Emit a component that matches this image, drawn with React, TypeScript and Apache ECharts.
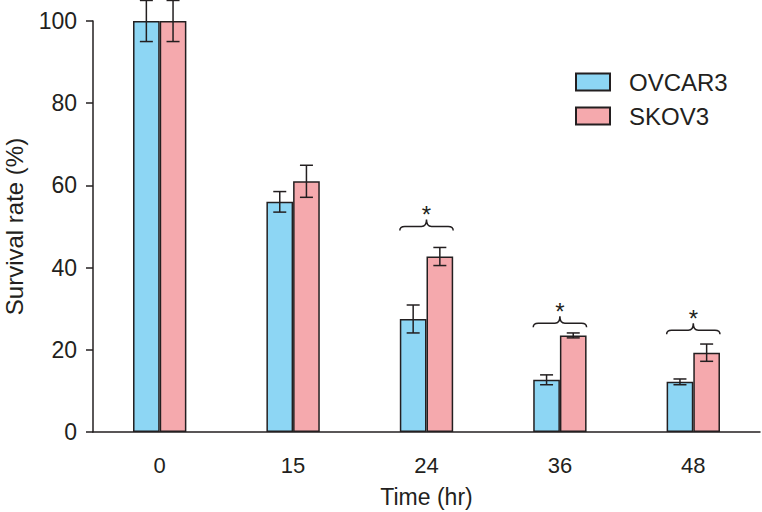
import React, { useEffect, useRef } from "react";
import * as echarts from "echarts";

const categories = ["0", "15", "24", "36", "48"];
const ovcar3 = [100, 56, 27.5, 12.7, 12.2];
const ovcar3Err = [5, 2.5, 3.4, 1.2, 0.7];
const skov3 = [100, 61, 42.7, 23.5, 19.3];
const skov3Err = [5, 3.9, 2.2, 0.6, 2.1];
// value level of the significance brace base (null = no brace)
const sigLevel: (number | null)[] = [null, null, 49, 25.5, 23.8];

const INK = "#231f20";
const FONT = "'Liberation Sans', Arial, sans-serif";

export default function App() {
  const ref = useRef<HTMLDivElement>(null);
  useEffect(() => {
    if (!ref.current) return;
    const chart = echarts.init(ref.current, null, { renderer: "svg" });

    const errSeries = (name: string, vals: number[], errs: number[], offset: number) => ({
      type: "custom",
      name,
      clip: false,
      z: 5,
      data: vals.map((v, i) => [i, v, errs[i]]),
      renderItem: (_p: any, api: any) => {
        const i = api.value(0);
        const v = api.value(1);
        const e = api.value(2);
        const band = api.size([1, 0])[0];
        const cx = api.coord([i, 0])[0] + offset * band;
        const yT = api.coord([i, v + e])[1];
        const yB = api.coord([i, v - e])[1];
        const cap = 6.5;
        const st = { stroke: INK, lineWidth: 1.5 };
        return {
          type: "group",
          children: [
            { type: "line", shape: { x1: cx, y1: yT, x2: cx, y2: yB }, style: st },
            { type: "line", shape: { x1: cx - cap, y1: yT, x2: cx + cap, y2: yT }, style: st },
            { type: "line", shape: { x1: cx - cap, y1: yB, x2: cx + cap, y2: yB }, style: st },
          ],
        };
      },
    });

    const braceData = sigLevel
      .map((l, i) => (l === null ? null : [i, l]))
      .filter((d) => d !== null);

    const option: any = {
      animation: false,
      textStyle: { fontFamily: FONT, color: INK },
      grid: { left: 93, right: 2, top: 21, bottom: 80, containLabel: false, outerBoundsMode: "none" },
      legend: {
        orient: "vertical",
        left: 575,
        top: 70,
        padding: 0,
        itemWidth: 34,
        itemHeight: 17,
        itemGap: 10,
        icon: "rect",
        data: ["OVCAR3", "SKOV3"],
        textStyle: {
          fontSize: 24,
          lineHeight: 17,
          color: INK,
          fontFamily: FONT,
          padding: [0, 0, 0, 14],
        },
      },
      xAxis: {
        type: "category",
        data: categories,
        name: "Time (hr)",
        nameLocation: "middle",
        nameGap: 53,
        nameTextStyle: { fontSize: 23, color: INK, fontFamily: FONT },
        axisLine: { lineStyle: { color: INK, width: 1.5 } },
        axisTick: { length: 8, lineStyle: { color: INK, width: 1.5 } },
        axisLabel: { fontSize: 22, color: INK, margin: 22, fontFamily: FONT },
      },
      yAxis: {
        type: "value",
        min: 0,
        max: 100,
        interval: 20,
        name: "Survival rate (%)",
        nameLocation: "middle",
        nameGap: 67,
        nameTextStyle: { fontSize: 24, color: INK, fontFamily: FONT },
        splitLine: { show: false },
        axisLine: { show: true, lineStyle: { color: INK, width: 1.5 } },
        axisTick: { show: true, length: 7, lineStyle: { color: INK, width: 1.5 } },
        axisLabel: { fontSize: 23, color: INK, margin: 16, fontFamily: FONT },
      },
      series: [
        {
          type: "bar",
          name: "OVCAR3",
          data: ovcar3,
          barWidth: "20%",
          barGap: "0%",
          itemStyle: { color: "#8dd6f4", borderColor: INK, borderWidth: 1.5 },
        },
        {
          type: "bar",
          name: "SKOV3",
          data: skov3,
          barWidth: "20%",
          barGap: "0%",
          itemStyle: { color: "#f5a9ad", borderColor: INK, borderWidth: 1.5 },
        },
        errSeries("errA", ovcar3, ovcar3Err, -0.1),
        errSeries("errB", skov3, skov3Err, 0.1),
        {
          type: "custom",
          name: "sig",
          clip: false,
          z: 6,
          data: braceData,
          renderItem: (_p: any, api: any) => {
            const i = api.value(0);
            const l = api.value(1);
            const band = api.size([1, 0])[0];
            const xm = api.coord([i, 0])[0];
            const x1 = xm - 0.2 * band;
            const x2 = xm + 0.2 * band;
            const yb = api.coord([i, l])[1];
            const yh = yb - 4;
            const yt = yb - 11;
            const r = 5;
            const d = `M${x1},${yb} Q${x1},${yh} ${x1 + r},${yh} L${xm - r},${yh} Q${xm},${yh} ${xm},${yt} Q${xm},${yh} ${xm + r},${yh} L${x2 - r},${yh} Q${x2},${yh} ${x2},${yb}`;
            return {
              type: "group",
              children: [
                {
                  type: "path",
                  shape: { pathData: d },
                  style: { fill: "none", stroke: INK, lineWidth: 1.5 },
                },
                {
                  type: "text",
                  x: xm,
                  y: yt - 5,
                  style: {
                    text: "*",
                    fontSize: 24,
                    fontFamily: FONT,
                    fill: INK,
                    align: "center",
                    verticalAlign: "middle",
                  },
                },
              ],
            };
          },
        },
      ],
    };
    chart.setOption(option);
    return () => chart.dispose();
  }, []);
  return <div ref={ref} style={{ width: 762, height: 512, position: "absolute", left: 0, top: 0, background: "#fff" }} />;
}
